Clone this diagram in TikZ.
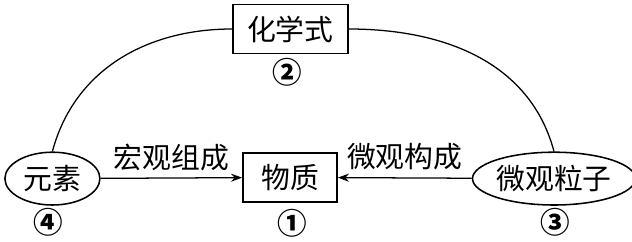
\documentclass[tikz,border=0pt]{standalone}
\usepackage{fontspec}
\setmainfont{Noto Sans CJK SC}
\usepackage{tikz}
\usetikzlibrary{arrows.meta, positioning, shapes.geometric}
\tikzset{
    % Concept boxes
    cbox/.style={rectangle, draw=black, line width=1.1pt, inner sep=0pt,
                minimum width=#1, minimum height=1.22cm, align=center,
                font=\fontsize{20.5}{24}\selectfont},
    cbox/.default=2.35cm,
    % Concept ellipses
    cell/.style={ellipse, draw=black, line width=1.1pt, inner sep=0pt,
                minimum width=#1, minimum height=1.32cm, align=center,
                font=\fontsize{20.5}{24}\selectfont},
    % Circled numbers
    numlbl/.style={font=\fontsize{21}{22}\selectfont\bfseries, inner sep=0pt},
    % Arrow labels
    arlbl/.style={font=\fontsize{20.5}{24}\selectfont, inner sep=0pt},
    % Connectors
    carrow/.style={-{Stealth[length=2.8mm, width=2mm]}, line width=0.9pt},
    cline/.style={line width=0.9pt},
}
\begin{document}
\begin{tikzpicture}
\useasboundingbox (0,0) rectangle (15.8,6.025);
\node[cbox=2.875cm] (formula)  at (7.26,5.3)     {化学式};
\node[cbox]         (matter)   at (7.25,1.59)    {物质};
\node[cell=2.375cm] (element)  at (1.31,1.56)    {元素};
\node[cell=3.7cm]   (particle) at (13.85,1.56)   {微观粒子};

\node[numlbl] (n1) at (7.3,0.45)    {①};
\node[numlbl] (n2) at (7.18,4.23)   {②};
\node[numlbl] (n3) at (13.88,0.47)  {③};
\node[numlbl] (n4) at (1.2,0.47)    {④};

\draw[carrow] (element) -- node[arlbl, above=0.17cm] {宏观组成} (matter);
\draw[carrow] (particle) -- node[arlbl, above=0.17cm] {微观构成} (matter);

\draw[cline] (element.north) to[out=75, in=180] (formula.west);
\draw[cline] (formula.east) to[out=0, in=105] (particle.north);
\end{tikzpicture}
\end{document}
